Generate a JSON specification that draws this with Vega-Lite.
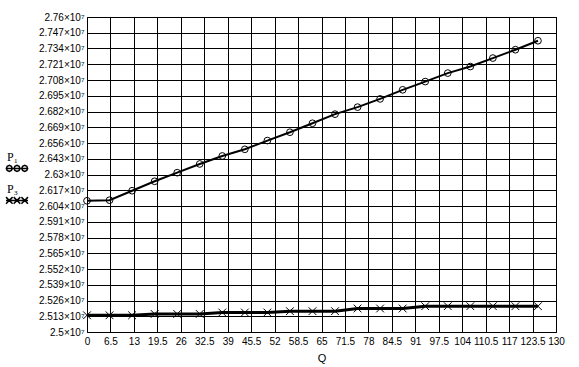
{
  "$schema": "https://vega.github.io/schema/vega-lite/v6.json",
  "width": 469,
  "height": 315,
  "autosize": "none",
  "padding": {"left": 87, "top": 17, "right": 23, "bottom": 35},
  "background": "white",
  "config": {
    "view": {"stroke": "black", "strokeWidth": 1},
    "axis": {
      "grid": true,
      "gridColor": "black",
      "gridOpacity": 1,
      "gridWidth": 1,
      "domain": false,
      "ticks": false,
      "labelFont": "Liberation Sans",
      "labelFontSize": 10,
      "labelColor": "black",
      "titleFont": "Liberation Sans",
      "titleFontSize": 11,
      "titleFontWeight": "normal",
      "titleColor": "black"
    }
  },
  "data": {
    "values": [
      {"series": "P1", "Q": 0, "P": 26083000},
      {"series": "P1", "Q": 6.25, "P": 26088000},
      {"series": "P1", "Q": 12.5, "P": 26166000},
      {"series": "P1", "Q": 18.75, "P": 26244000},
      {"series": "P1", "Q": 25, "P": 26315000},
      {"series": "P1", "Q": 31.25, "P": 26387000},
      {"series": "P1", "Q": 37.5, "P": 26453000},
      {"series": "P1", "Q": 43.75, "P": 26508000},
      {"series": "P1", "Q": 50, "P": 26580000},
      {"series": "P1", "Q": 56.25, "P": 26649000},
      {"series": "P1", "Q": 62.5, "P": 26723000},
      {"series": "P1", "Q": 68.75, "P": 26798000},
      {"series": "P1", "Q": 75, "P": 26856000},
      {"series": "P1", "Q": 81.25, "P": 26924000},
      {"series": "P1", "Q": 87.5, "P": 26999000},
      {"series": "P1", "Q": 93.75, "P": 27067000},
      {"series": "P1", "Q": 100, "P": 27137000},
      {"series": "P1", "Q": 106.25, "P": 27191000},
      {"series": "P1", "Q": 112.5, "P": 27261000},
      {"series": "P1", "Q": 118.75, "P": 27330000},
      {"series": "P1", "Q": 125, "P": 27404000},
      {"series": "P3", "Q": 0, "P": 25138000},
      {"series": "P3", "Q": 6.25, "P": 25138000},
      {"series": "P3", "Q": 12.5, "P": 25138000},
      {"series": "P3", "Q": 18.75, "P": 25149000},
      {"series": "P3", "Q": 25, "P": 25149000},
      {"series": "P3", "Q": 31.25, "P": 25149000},
      {"series": "P3", "Q": 37.5, "P": 25161000},
      {"series": "P3", "Q": 43.75, "P": 25161000},
      {"series": "P3", "Q": 50, "P": 25161000},
      {"series": "P3", "Q": 56.25, "P": 25172000},
      {"series": "P3", "Q": 62.5, "P": 25172000},
      {"series": "P3", "Q": 68.75, "P": 25172000},
      {"series": "P3", "Q": 75, "P": 25194000},
      {"series": "P3", "Q": 81.25, "P": 25194000},
      {"series": "P3", "Q": 87.5, "P": 25194000},
      {"series": "P3", "Q": 93.75, "P": 25213000},
      {"series": "P3", "Q": 100, "P": 25213000},
      {"series": "P3", "Q": 106.25, "P": 25213000},
      {"series": "P3", "Q": 112.5, "P": 25213000},
      {"series": "P3", "Q": 118.75, "P": 25213000},
      {"series": "P3", "Q": 125, "P": 25213000}
    ]
  },
  "encoding": {
    "x": {
      "field": "Q",
      "type": "quantitative",
      "scale": {"domain": [0, 130], "nice": false, "zero": false},
      "axis": {
        "values": [0, 6.5, 13, 19.5, 26, 32.5, 39, 45.5, 52, 58.5, 65, 71.5, 78, 84.5, 91, 97.5, 104, 110.5, 117, 123.5, 130],
        "labelExpr": "format(datum.value, '.1~f')",
        "title": "Q",
        "labelOverlap": false,
        "labelFlush": false,
        "labelBound": false,
        "labelPadding": 4,
        "titlePadding": 6
      }
    },
    "y": {
      "field": "P",
      "type": "quantitative",
      "scale": {"domain": [25000000, 27600000], "nice": false, "zero": false},
      "axis": {
        "values": [25000000, 25130000, 25260000, 25390000, 25520000, 25650000, 25780000, 25910000, 26040000, 26170000, 26300000, 26430000, 26560000, 26690000, 26820000, 26950000, 27080000, 27210000, 27340000, 27470000, 27600000],
        "labelExpr": "format(datum.value / 10000000, '.3~f') + '×10⁷'",
        "title": null,
        "labelOverlap": false,
        "labelFlush": false,
        "labelPadding": 3
      }
    },
    "color": {
      "field": "series",
      "type": "nominal",
      "scale": {"domain": ["P1", "P3"], "range": ["black", "black"]},
      "legend": {
        "orient": "none",
        "legendX": -82,
        "legendY": 135,
        "title": null,
        "labelExpr": "datum.label == 'P1' ? 'P₁' : 'P₃'",
        "labelFont": "Liberation Serif",
        "labelFontSize": 12,
        "labelColor": "black",
        "labelBaseline": "bottom",
        "labelAlign": "left",
        "labelOffset": -22,
        "rowPadding": 8,
        "padding": 0,
        "symbolSize": 484,
        "symbolStrokeWidth": 1.5,
        "symbolFillColor": "transparent",
        "encoding": {
          "symbols": {
            "shape": {
              "condition": {"test": "datum.value == 'P1'", "value": "M-1,0.4L1,0.4M-0.43,0.4L-0.51,0.59L-0.7,0.67L-0.89,0.59L-0.97,0.4L-0.89,0.21L-0.7,0.13L-0.51,0.21ZM0.27,0.4L0.19,0.59L0,0.67L-0.19,0.59L-0.27,0.4L-0.19,0.21L0,0.13L0.19,0.21ZM0.97,0.4L0.89,0.59L0.7,0.67L0.51,0.59L0.43,0.4L0.51,0.21L0.7,0.13L0.89,0.21Z"},
              "value": "M-1,0.4L1,0.4M-1,0.1L-0.4,0.7M-1,0.7L-0.4,0.1M-0.3,0.1L0.3,0.7M-0.3,0.7L0.3,0.1M0.4,0.1L1,0.7M0.4,0.7L1,0.1"
            },
            "fill": {"value": "transparent"},
            "strokeWidth": {"value": 1.5}
          }
        }
      }
    }
  },
  "layer": [
    {
      "transform": [{"filter": "datum.series == 'P1'"}],
      "mark": {"type": "line", "strokeWidth": 2},
      "encoding": {}
    },
    {
      "transform": [{"filter": "datum.series == 'P3'"}],
      "mark": {"type": "line", "strokeWidth": 3},
      "encoding": {}
    },
    {
      "transform": [{"filter": "datum.series == 'P1'"}],
      "mark": {"type": "point", "filled": false, "strokeWidth": 1, "opacity": 1, "size": 45, "shape": "circle"},
      "encoding": {}
    },
    {
      "transform": [{"filter": "datum.series == 'P3'"}],
      "mark": {"type": "point", "filled": false, "strokeWidth": 1, "opacity": 1, "size": 45, "shape": "M-1.15,-1.15L1.15,1.15M-1.15,1.15L1.15,-1.15"},
      "encoding": {}
    }
  ]
}
